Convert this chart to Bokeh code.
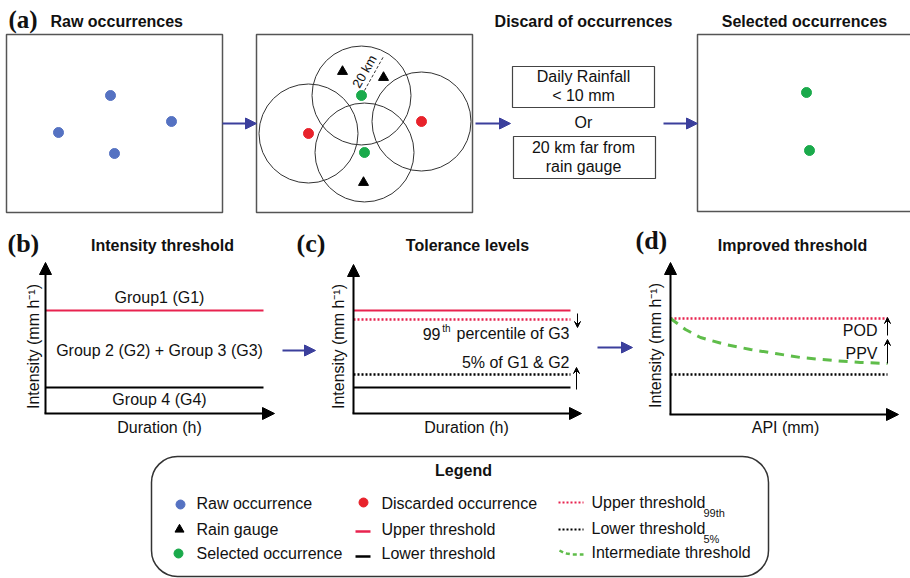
import numpy as np
from bokeh.plotting import figure
from bokeh.models import Range1d, Arrow, NormalHead, VeeHead, BoxAnnotation
from bokeh.core.properties import value
from bokeh.embed import file_html
from bokeh.resources import INLINE

# ---- schematic content (canvas units: x to the right, y downward) ----
raw_x = [110, 58, 171, 114]
raw_y = [95, 132, 121, 153]
discard_x = [308, 421]
discard_y = [133, 121]
kept_x = [361, 364]
kept_y = [95, 152]
gauge_x = [342, 383, 363]
gauge_y = [71, 77, 182]
buffer_radius = 49.5
selected_x = [806, 809]
selected_y = [92, 150]

# thresholds in the (b)-(d) sketches
upper_y = 310
upper99_y = 319
lower5_y = 374
lower_y = 387
improved_x = [670, 685, 700, 725, 750, 775, 800, 833, 860, 887]
improved_y = [318, 329, 337, 344, 349, 353, 357, 360, 362, 363]

FONT = value("Liberation Sans")
SERIF = value("Liberation Serif")
BLUE = "#5572c2"
RED = "#e8222b"
GREEN = "#1aaa4b"
LGREEN = "#5fbd4a"
CRIMSON = "#e8234f"
NAVY = "#3b3f9c"

p = figure(width=910, height=578, x_range=Range1d(0, 910), y_range=Range1d(578, 0),
           toolbar_location=None, output_backend="svg", min_border=0,
           x_axis_location=None, y_axis_location=None)
p.grid.visible = False
p.outline_line_color = None
p.background_fill_color = "white"


def txt(x, y, s, size=16, bold=False, align="center", angle=0.0, font=FONT, color="#111111"):
    p.text(x=[x], y=[y], text=[s], text_font=font, text_font_size=value(f"{size}px"),
           text_font_style="bold" if bold else "normal", text_align=align,
           text_baseline="middle", angle=angle, text_color=color)


def arrow(x0, y0, x1, y1, color="black", width=2.0, head=None):
    p.add_layout(Arrow(x_start=x0, y_start=y0, x_end=x1, y_end=y1, line_color=color,
                       line_width=width, end=head))


def flow_arrow(x0, x1, y):
    arrow(x0, y, x1, y, color=NAVY, width=2,
          head=NormalHead(size=11, fill_color=NAVY, line_color=NAVY))


# ---------------- (a) ----------------
txt(8, 19, "(a)", size=25, bold=True, align="left", font=SERIF)
txt(50, 21, "Raw occurrences", bold=True, align="left")
txt(583, 21, "Discard of occurrences", bold=True)
txt(804, 21, "Selected occurrences", bold=True)

p.quad(left=[6, 256, 697], right=[222, 472, 915], top=[34, 34, 34], bottom=[212, 212, 211],
       fill_color=None, line_color="#555555", line_width=1.5)

p.scatter(raw_x, raw_y, size=10, color=BLUE)

# 20 km buffers around each raw occurrence
p.circle(x=discard_x + kept_x, y=discard_y + kept_y, radius=buffer_radius,
         fill_color=None, line_color="#333333", line_width=1)
p.scatter(discard_x, discard_y, size=10, color=RED)
p.scatter(kept_x, kept_y, size=10, color=GREEN)
p.scatter(gauge_x, gauge_y, marker="triangle", size=10, color="black")
p.segment(x0=[364], y0=[90], x1=[383], y1=[56], line_color="#333333", line_width=1,
          line_dash="3 2")
txt(364, 71, "20 km", size=13, angle=np.deg2rad(60))

p.quad(left=[512, 513], right=[654, 655], top=[66, 136], bottom=[107, 178],
       fill_color=None, line_color="#444444", line_width=1.2)
txt(583, 76, "Daily Rainfall")
txt(583, 95, "< 10 mm")
txt(583, 122, "Or")
txt(583, 147, "20 km far from")
txt(583, 166, "rain gauge")

p.scatter(selected_x, selected_y, size=10, color=GREEN)

flow_arrow(222, 256, 123)
flow_arrow(475, 510, 123)
flow_arrow(663, 697, 123)

# ---------------- (b) ----------------
txt(7, 243, "(b)", size=26, bold=True, align="left", font=SERIF)
txt(162, 245, "Intensity threshold", bold=True)
p.segment(x0=[45, 45], y0=[upper_y, lower_y], x1=[263, 263], y1=[upper_y, lower_y],
          line_color=[CRIMSON, "black"], line_width=2)
arrow(45, 413, 45, 262, head=NormalHead(size=12, fill_color="black"))
arrow(44, 413, 274, 413, head=NormalHead(size=12, fill_color="black"))
txt(159, 297, "Group1 (G1)")
txt(159, 350, "Group 2 (G2) + Group 3 (G3)")
txt(159, 399, "Group 4 (G4)")
txt(159, 427, "Duration (h)")
txt(33, 346, "Intensity (mm h\u207b\u00b9)", angle=np.pi / 2)
flow_arrow(282, 315, 350)

# ---------------- (c) ----------------
txt(296, 243, "(c)", size=26, bold=True, align="left", font=SERIF)
txt(467, 245, "Tolerance levels", bold=True)
p.segment(x0=[353, 353], y0=[upper_y, lower_y], x1=[570, 570], y1=[upper_y, lower_y],
          line_color=[CRIMSON, "black"], line_width=2)
p.segment(x0=[353, 353], y0=[upper99_y, lower5_y], x1=[570, 570], y1=[upper99_y, lower5_y],
          line_color=[CRIMSON, "black"], line_width=2.5, line_dash="2 2")
arrow(353, 413, 353, 264, head=NormalHead(size=12, fill_color="black"))
arrow(352, 413, 581, 413, head=NormalHead(size=12, fill_color="black"))
arrow(577, 313, 577, 327, width=1, head=VeeHead(size=6, line_width=1))
arrow(576, 389, 576, 367, width=1, head=VeeHead(size=6, line_width=1))
txt(569, 333, "percentile of G3", align="right")
txt(450, 328, "th", size=10, align="right")
txt(440, 333, "99", align="right")
txt(569, 362, "5% of G1 & G2", align="right")
txt(466, 427, "Duration (h)")
txt(338, 346, "Intensity (mm h\u207b\u00b9)", angle=np.pi / 2)
flow_arrow(597, 632, 347)

# ---------------- (d) ----------------
txt(635, 240, "(d)", size=26, bold=True, align="left", font=SERIF)
txt(792, 245, "Improved threshold", bold=True)
p.segment(x0=[670, 670], y0=[upper99_y - 1, lower5_y], x1=[887, 887],
          y1=[upper99_y - 1, lower5_y], line_color=[CRIMSON, "black"], line_width=2.5,
          line_dash="2 2")
p.line(improved_x, improved_y, line_color=LGREEN, line_width=3, line_dash="9 7")
arrow(670, 414, 670, 262, head=NormalHead(size=12, fill_color="black"))
arrow(669, 414, 898, 414, head=NormalHead(size=12, fill_color="black"))
arrow(887, 335, 887, 317, width=1, head=VeeHead(size=6, line_width=1))
arrow(887, 363, 887, 339, width=1, head=VeeHead(size=6, line_width=1))
txt(877, 330, "POD", align="right")
txt(877, 353, "PPV", align="right")
txt(785, 427, "API (mm)")
txt(655, 345, "Intensity (mm h\u207b\u00b9)", angle=np.pi / 2)

# ---------------- legend ----------------
p.add_layout(BoxAnnotation(left=151, right=768, top=456, bottom=576, border_radius=26,
                           fill_alpha=0, line_color="#333333", line_alpha=1.0,
                           line_width=1.5))
txt(463, 470, "Legend", bold=True)

leg_col1 = ["Raw occurrence", "Rain gauge", "Selected occurrence"]
leg_col2 = ["Discarded occurrence", "Upper threshold", "Lower threshold"]
leg_col3 = ["Upper threshold", "Lower threshold", "Intermediate threshold"]
leg_sub3 = ["99th", "5%", ""]
row_y = [503, 529, 553]

p.scatter([180], [row_y[0] + 1], size=9, color=BLUE)
p.scatter([179], [row_y[1]], marker="triangle", size=9, color="black")
p.scatter([178], [row_y[2]], size=9, color=GREEN)
for s, y in zip(leg_col1, row_y):
    txt(196, y, s, align="left")

p.scatter([363], [row_y[0] - 1], size=9, color=RED)
p.segment(x0=[355, 355], y0=[row_y[1] + 2, row_y[2] + 3], x1=[370, 370],
          y1=[row_y[1] + 2, row_y[2] + 3], line_color=[CRIMSON, "black"], line_width=2.5)
for s, y in zip(leg_col2, row_y):
    txt(381, y, s, align="left")

p.segment(x0=[558, 558], y0=[row_y[0] - 1, row_y[1]], x1=[583, 583],
          y1=[row_y[0] - 1, row_y[1]], line_color=[CRIMSON, "black"], line_width=2,
          line_dash="2 2")
p.line([559, 563, 566, 572, 577, 583], [row_y[2] - 3, row_y[2] - 1, row_y[2], row_y[2] + 1,
                                         row_y[2] + 1, row_y[2] + 1],
       line_color=LGREEN, line_width=2.5, line_dash="4 3")
for s, sub, y in zip(leg_col3, leg_sub3, row_y):
    txt(591, y - 1, s, align="left")
    if sub:
        txt(703, y + 9, sub, size=11, align="left")

open("out.html", "w").write(file_html(p, INLINE))
